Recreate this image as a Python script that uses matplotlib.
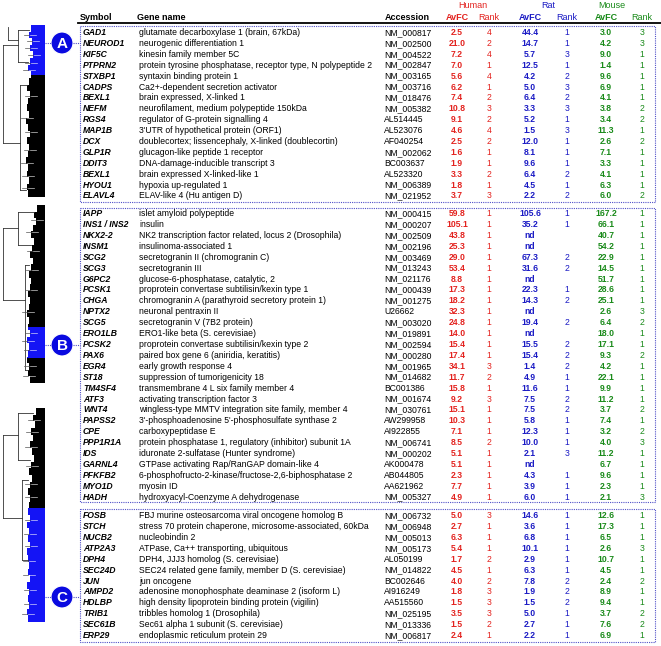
import matplotlib
matplotlib.use('Agg')
import matplotlib.pyplot as plt
from matplotlib.patches import Rectangle, Circle

plt.rcParams['font.family'] = ['Liberation Sans', 'DejaVu Sans']

# ---- cluster A ----
sym_a = ["GAD1", "NEUROD1", "KIF5C", "PTPRN2", "STXBP1", "CADPS", "BEXL1", "NEFM",
         "RGS4", "MAP1B", "DCX", "GLP1R", "DDIT3", "BEXL1", "HYOU1", "ELAVL4"]
name_a = ["glutamate decarboxylase 1 (brain, 67kDa)",
          "neurogenic differentiation 1",
          "kinesin family member 5C",
          "protein tyrosine phosphatase, receptor type, N polypeptide 2",
          "syntaxin binding protein 1",
          "Ca2+-dependent secretion activator",
          "brain expressed, X-linked 1",
          "neurofilament, medium polypeptide 150kDa",
          "regulator of G-protein signalling 4",
          "3'UTR of hypothetical protein (ORF1)",
          "doublecortex; lissencephaly, X-linked (doublecortin)",
          "glucagon-like peptide 1 receptor",
          "DNA-damage-inducible transcript 3",
          "brain expressed X-linked-like 1",
          "hypoxia up-regulated 1",
          "ELAV-like 4 (Hu antigen D)"]
acc_a = ["NM_000817", "NM_002500", "NM_004522", "NM_002847", "NM_003165", "NM_003716",
         "NM_018476", "NM_005382", "AL514445", "AL523076", "AF040254", "NM_002062",
         "BC003637", "AL523320", "NM_006389", "NM_021952"]
hfc_a = [2.5, 21.0, 7.2, 7.0, 5.6, 6.2, 7.4, 10.8, 9.1, 4.6, 2.5, 1.6, 1.9, 3.3, 1.8, 3.7]
hrk_a = [4, 2, 4, 1, 4, 1, 2, 3, 2, 4, 2, 1, 1, 2, 1, 3]
rfc_a = [44.4, 14.7, 5.7, 12.5, 4.2, 5.0, 6.4, 3.3, 5.2, 1.5, 12.0, 8.1, 9.6, 6.4, 4.5, 2.2]
rrk_a = [1, 1, 3, 1, 2, 3, 2, 3, 1, 3, 1, 1, 1, 2, 1, 2]
mfc_a = [3.0, 4.2, 9.0, 1.4, 9.6, 6.9, 4.1, 3.8, 3.4, 11.3, 2.6, 7.1, 3.3, 4.1, 6.3, 6.0]
mrk_a = [3, 3, 1, 1, 1, 1, 1, 2, 2, 1, 2, 1, 1, 1, 1, 2]

# ---- cluster B ----
sym_b = ["IAPP", "INS1 / INS2", "NKX2-2", "INSM1", "SCG2", "SCG3", "G6PC2", "PCSK1",
         "CHGA", "NPTX2", "SCG5", "ERO1LB", "PCSK2", "PAX6", "EGR4", "ST18", "TM4SF4",
         "ATF3", "WNT4", "PAPSS2", "CPE", "PPP1R1A", "IDS", "GARNL4", "PFKFB2", "MYO1D", "HADH"]
name_b = ["islet amyloid polypeptide",
          "insulin",
          "NK2 transcription factor related, locus 2 (Drosophila)",
          "insulinoma-associated 1",
          "secretogranin II (chromogranin C)",
          "secretogranin III",
          "glucose-6-phosphatase, catalytic, 2",
          "proprotein convertase subtilisin/kexin type 1",
          "chromogranin A (parathyroid secretory protein 1)",
          "neuronal pentraxin II",
          "secretogranin V (7B2 protein)",
          "ERO1-like beta (S. cerevisiae)",
          "proprotein convertase subtilisin/kexin type 2",
          "paired box gene 6 (aniridia, keratitis)",
          "early growth response 4",
          "suppression of tumorigenicity 18",
          "transmembrane 4 L six family member 4",
          "activating transcription factor 3",
          "wingless-type MMTV integration site family, member 4",
          "3'-phosphoadenosine 5'-phosphosulfate synthase 2",
          "carboxypeptidase E",
          "protein phosphatase 1, regulatory (inhibitor) subunit 1A",
          "iduronate 2-sulfatase (Hunter syndrome)",
          "GTPase activating Rap/RanGAP domain-like 4",
          "6-phosphofructo-2-kinase/fructose-2,6-biphosphatase 2",
          "myosin ID",
          "hydroxyacyl-Coenzyme A dehydrogenase"]
acc_b = ["NM_000415", "NM_000207", "NM_002509", "NM_002196", "NM_003469", "NM_013243",
         "NM_021176", "NM_000439", "NM_001275", "U26662", "NM_003020", "NM_019891",
         "NM_002594", "NM_000280", "NM_001965", "NM_014682", "BC001386", "NM_001674",
         "NM_030761", "AW299958", "AI922855", "NM_006741", "NM_000202", "AK000478",
         "AB044805", "AA621962", "NM_005327"]
hfc_b = [59.8, 105.1, 43.8, 25.3, 29.0, 53.4, 8.8, 17.3, 18.2, 32.3, 24.8, 14.0, 15.4, 17.4,
         34.1, 11.7, 15.8, 9.2, 15.1, 10.3, 7.1, 8.5, 5.1, 5.1, 2.3, 7.7, 4.9]
hrk_b = [1, 1, 1, 1, 1, 1, 1, 1, 1, 1, 1, 1, 1, 1, 3, 2, 1, 3, 1, 1, 1, 2, 1, 1, 1, 1, 1]
rfc_b = [105.6, 35.2, None, None, 67.3, 31.6, None, 22.3, 14.3, None, 19.4, None, 15.5, 15.4,
         1.4, 4.9, 11.6, 7.5, 7.5, 5.8, 12.3, 10.0, 2.1, None, 4.3, 3.9, 6.0]
rrk_b = [1, 1, None, None, 2, 2, None, 1, 2, None, 2, None, 2, 2, 2, 1, 1, 2, 2, 1, 1, 1, 3,
         None, 1, 1, 1]
mfc_b = [167.2, 66.1, 40.7, 54.2, 22.9, 14.5, 51.7, 28.6, 25.1, 2.6, 6.4, 18.0, 17.1, 9.3,
         4.2, 22.1, 9.9, 11.2, 3.7, 7.4, 3.2, 4.0, 11.2, 6.7, 9.6, 2.3, 2.1]
mrk_b = [1, 1, 1, 1, 1, 1, 1, 1, 1, 3, 2, 1, 1, 2, 1, 1, 1, 1, 2, 1, 2, 3, 1, 1, 1, 1, 3]

# ---- cluster C ----
sym_c = ["FOSB", "STCH", "NUCB2", "ATP2A3", "DPH4", "SEC24D", "JUN", "AMPD2", "HDLBP",
         "TRIB1", "SEC61B", "ERP29"]
name_c = ["FBJ murine osteosarcoma viral oncogene homolog B",
          "stress 70 protein chaperone, microsome-associated, 60kDa",
          "nucleobindin 2",
          "ATPase, Ca++ transporting, ubiquitous",
          "DPH4, JJJ3 homolog (S. cerevisiae)",
          "SEC24 related gene family, member D (S. cerevisiae)",
          "jun oncogene",
          "adenosine monophosphate deaminase 2 (isoform L)",
          "high density lipoprotein binding protein (vigilin)",
          "tribbles homolog 1 (Drosophila)",
          "Sec61 alpha 1 subunit (S. cerevisiae)",
          "endoplasmic reticulum protein 29"]
acc_c = ["NM_006732", "NM_006948", "NM_005013", "NM_005173", "AL050199", "NM_014822",
         "BC002646", "AI916249", "AA515560", "NM_025195", "NM_013336", "NM_006817"]
hfc_c = [5.0, 2.7, 6.3, 5.4, 1.7, 4.5, 4.0, 1.8, 1.5, 3.5, 1.5, 2.4]
hrk_c = [3, 1, 1, 1, 2, 1, 2, 3, 3, 3, 2, 1]
rfc_c = [14.6, 3.6, 6.8, 10.1, 2.9, 6.3, 7.8, 1.9, 1.5, 5.0, 2.7, 2.2]
rrk_c = [1, 1, 1, 1, 1, 1, 2, 2, 2, 1, 1, 1]
mfc_c = [12.6, 17.3, 6.5, 2.6, 10.7, 4.5, 2.4, 8.9, 9.4, 3.7, 7.6, 6.9]
mrk_c = [1, 1, 1, 3, 1, 1, 2, 1, 1, 2, 2, 1]

RED = '#e3221e'
BLUE = '#1a1ac4'
GREEN = '#198a19'
DOT = '#5050c8'
HILITE = '#1414f5'
FS = 6.2
STEP = 10.9

fig = plt.figure(figsize=(6.61, 6.46), dpi=100)
ax = fig.add_axes([0, 0, 1, 1])
ax.set_xlim(0, 661)
ax.set_ylim(646, 0)
ax.axis('off')

# header
ax.text(473, 6, 'Human', color=RED, fontsize=FS + 0.3, ha='center', va='center')
ax.text(548, 6, 'Rat', color=BLUE, fontsize=FS + 0.3, ha='center', va='center')
ax.text(612, 6, 'Mouse', color=GREEN, fontsize=FS + 0.3, ha='center', va='center')
hy = 17
ax.text(80, hy, 'Symbol', fontsize=FS + 0.3, fontweight='bold', va='center')
ax.text(137, hy, 'Gene name', fontsize=FS + 0.3, fontweight='bold', va='center')
ax.text(385, hy, 'Accession', fontsize=FS + 0.3, fontweight='bold', va='center')
cols = [(457, RED), (489, RED), (530, BLUE), (567, BLUE), (606, GREEN), (642, GREEN)]
for (cx, c), lab in zip(cols, ['AvFC', 'Rank'] * 3):
    ax.text(cx, hy, lab, color=c, fontsize=FS + 0.3, ha='center', va='center',
            fontweight='bold' if lab == 'AvFC' else 'normal')
ax.plot([78, 661], [23, 23], color='black', lw=1.3)


def fmt(v):
    return 'nd' if v is None else '%.1f' % v


def rk(v):
    return '' if v is None else str(v)


def draw_block(y0, box, sym, name, acc, hfc, hrk, rfc, rrk, mfc, mrk):
    for i in range(len(sym)):
        y = y0 + i * STEP
        ax.text(83, y, sym[i], fontsize=FS, fontweight='bold', fontstyle='italic', va='center')
        ax.text(139, y, name[i], fontsize=FS, va='center')
        ax.text(384, y, acc[i], fontsize=FS, va='center')
        vals = [fmt(hfc[i]), rk(hrk[i]), fmt(rfc[i]), rk(rrk[i]), fmt(mfc[i]), rk(mrk[i])]
        for j, ((cx, c), s) in enumerate(zip(cols, vals)):
            ax.text(cx, y, s, color=c, fontsize=FS, ha='center', va='center',
                    fontweight='bold' if j % 2 == 0 else 'normal')
    ax.add_patch(Rectangle((80, box[0]), 575, box[1] - box[0], fill=False,
                           edgecolor=DOT, lw=0.8, linestyle=(0, (1, 1))))


draw_block(32.5, (26, 202), sym_a, name_a, acc_a, hfc_a, hrk_a, rfc_a, rrk_a, mfc_a, mrk_a)
draw_block(213.7, (208, 502), sym_b, name_b, acc_b, hfc_b, hrk_b, rfc_b, rrk_b, mfc_b, mrk_b)
draw_block(515.7, (509, 642), sym_c, name_c, acc_c, hfc_c, hrk_c, rfc_c, rrk_c, mfc_c, mrk_c)

# ---- dendrograms: leaf-block left edges ----
edge_1 = [31, 29, 32, 30, 33, 30, 28, 31, 29, 27, 30, 28, 27, 29, 26, 28, 30, 27, 29, 28,
          26, 28, 27, 29, 27, 28]
blue_1 = (25, 75)
span_1 = (25, 197)
edge_2 = [37, 34, 36, 33, 31, 34, 32, 30, 33, 31, 29, 31, 30, 28, 30, 29, 27, 29, 28, 30,
          27, 29, 28, 27, 29, 28, 30]
blue_2 = (327, 358)
span_2 = (205, 383)
edge_3 = [36, 33, 35, 31, 33, 30, 32, 34, 31, 29, 32, 30, 28, 30, 29, 28, 30, 27, 29, 28,
          30, 27, 28, 29, 28, 30, 27, 29, 28, 29, 27, 28]
blue_3 = (508, 622)
span_3 = (408, 622)

branches_1 = [((3, 3), (45, 143)), ((3, 18), (45, 45)), ((18, 18), (30, 62)),
              ((18, 29), (30, 30)), ((18, 28), (62, 62)), ((3, 20), (143, 143)),
              ((20, 20), (85, 190)), ((20, 27), (85, 85)), ((20, 26), (190, 190)),
              ((8, 8), (27, 40)), ((8, 18), (40, 40))]
branches_2 = [((3, 3), (228, 300)), ((3, 18), (228, 228)), ((18, 18), (212, 245)),
              ((18, 34), (212, 212)), ((18, 31), (245, 245)), ((3, 25), (300, 300)),
              ((25, 25), (265, 370)), ((25, 29), (265, 265)), ((25, 28), (370, 370))]
branches_3 = [((3, 3), (435, 518)), ((3, 18), (435, 435)), ((18, 18), (413, 460)),
              ((18, 33), (413, 413)), ((18, 30), (460, 460)), ((3, 22), (518, 518)),
              ((22, 22), (480, 560)), ((22, 28), (480, 480)), ((22, 28), (560, 560))]
stripes_1 = [35, 41, 48, 55, 63, 70, 96, 118, 132, 150, 163, 176, 188]
stripes_2 = [220, 232, 251, 270, 290, 312, 333, 341, 350, 366, 376]
stripes_3 = [420, 432, 447, 466, 484, 497, 520, 534, 546, 561, 575, 590, 604, 614]


def draw_tree(span, edge, blue, branches, stripes):
    n = len(edge)
    h = (span[1] - span[0]) / n
    for k, e in enumerate(edge):
        ya = span[0] + k * h
        yb = ya + h
        # split into blue / black parts
        for lo, hi, col in [(ya, min(yb, blue[0]), 'black'),
                            (max(ya, blue[0]), min(yb, blue[1]), HILITE),
                            (max(ya, blue[1]), yb, 'black')]:
            if hi > lo:
                ax.fill_betweenx([lo, hi], e, 45, color=col, lw=0)
    for xs, ys in branches:
        ax.plot(xs, ys, color='#333333', lw=0.6)
    for s in stripes:
        k = min(int((s - span[0]) / h), n - 1)
        ax.plot([edge[k] - 5, edge[k]], [s, s], color='#555555', lw=0.5)
        ax.plot([edge[k] + 1, edge[k] + 7], [s, s], color='white', lw=0.5, alpha=0.8)


draw_tree(span_1, edge_1, blue_1, branches_1, stripes_1)
draw_tree(span_2, edge_2, blue_2, branches_2, stripes_2)
draw_tree(span_3, edge_3, blue_3, branches_3, stripes_3)

# cluster markers
for letter, yc in [('A', 43), ('B', 345), ('C', 597)]:
    ax.plot([45, 51], [yc, yc], color=DOT, lw=0.8, linestyle=(0, (1, 1)))
    ax.plot([73, 80], [yc, yc], color=DOT, lw=0.8, linestyle=(0, (1, 1)))
    ax.add_patch(Circle((62, yc), 11, facecolor='#0a0ae0', edgecolor='white', lw=0.8))
    ax.text(62, yc + 0.5, letter, color='white', fontsize=11, fontweight='bold',
            ha='center', va='center')

plt.savefig('out.png', dpi=100)
